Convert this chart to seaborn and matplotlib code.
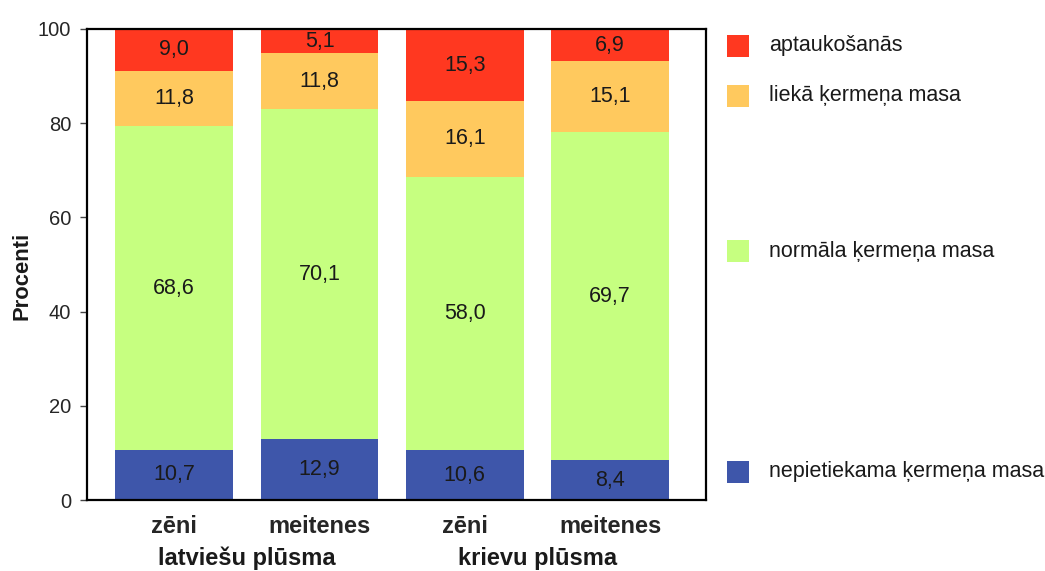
import matplotlib
matplotlib.use("Agg")
import matplotlib.pyplot as plt
from matplotlib.patches import Rectangle
from matplotlib.transforms import blended_transform_factory
import seaborn as sns

# Body-mass categories (bottom to top of each stacked bar)
categories = ["nepietiekama ķermeņa masa", "normāla ķermeņa masa",
              "liekā ķermeņa masa", "aptaukošanās"]
groups = ["latviešu plūsma", "krievu plūsma"]
genders = ["zēni", "meitenes"]

# Shares in percent, one list per category, bars ordered:
# latviešu zēni, latviešu meitenes, krievu zēni, krievu meitenes
underweight = [10.7, 12.9, 10.6, 8.4]
normal = [68.6, 70.1, 58.0, 69.7]
overweight = [11.8, 11.8, 16.1, 15.1]
obese = [9.0, 5.1, 15.3, 6.9]
yticks = [0, 20, 40, 60, 80, 100]

series = [underweight, normal, overweight, obese]
colors = ["#3E56AA", "#C6FF80", "#FFC95E", "#FF3820"]

sns.set_theme(style="white")
plt.rcParams["font.family"] = ["Liberation Sans", "DejaVu Sans"]
plt.rcParams["text.color"] = "#1a1a1a"

W, H = 1045, 571
fig = plt.figure(figsize=(W / 100, H / 100), dpi=100)
ax = fig.add_axes([87 / W, (H - 500) / H, 619 / W, 471 / H])

bar_keys = [f"{g} | {s}" for g in groups for s in genders]
bottoms = [0.0] * len(bar_keys)
for vals, col in zip(series, colors):
    sns.barplot(x=bar_keys, y=vals, bottom=bottoms, color=col, width=0.81,
                saturation=1, linewidth=0, ax=ax, order=bar_keys)
    cont = ax.containers[-1]
    ax.bar_label(cont, labels=[f"{v:.1f}".replace(".", ",") for v in vals],
                 label_type="center", fontsize=15.5, color="#1a1a1a")
    bottoms = [b + v for b, v in zip(bottoms, vals)]

ax.set_xlim(-0.60, 3.66)
ax.set_ylim(0, 100)
ax.set_yticks(yticks)
ax.set_yticklabels([str(t) for t in yticks], fontsize=14.5)
ax.set_xticks(range(len(bar_keys)))
ax.set_xticklabels([s for _ in groups for s in genders], fontsize=17,
                   fontweight="bold")
ax.tick_params(axis="x", length=0, pad=11)
ax.tick_params(axis="y", length=5, width=1, color="#444444", pad=6.5,
               left=True, direction="out")
ax.set_xlabel("")
ax.set_ylabel("")
fig.text(22 / W, (H - 276) / H, "Procenti", rotation=90, ha="center",
         va="center", fontsize=15.8, fontweight="bold")

for sp in ax.spines.values():
    sp.set_visible(True)
    sp.set_color("black")
    sp.set_linewidth(1.6)

# Group captions under the gender labels
trans = blended_transform_factory(ax.transData, fig.transFigure)
for i, g in enumerate(groups):
    ax.text(2 * i + 0.5, (H - 558) / H, g, transform=trans, ha="center",
            va="center", fontsize=17, fontweight="bold", clip_on=False)

# Legend entries placed beside the bars
legend_y = {"aptaukošanās": 46, "liekā ķermeņa masa": 96,
            "normāla ķermeņa masa": 251, "nepietiekama ķermeņa masa": 472}
for name, col in zip(categories, colors):
    yc = legend_y[name]
    fig.patches.append(Rectangle((727 / W, (H - yc - 11) / H), 22 / W, 22 / H,
                                 transform=fig.transFigure, facecolor=col,
                                 edgecolor="none"))
    fig.text(769 / W, (H - yc) / H, name, ha="left", va="center",
             fontsize=15.5)

fig.savefig("out.png", dpi=100)
